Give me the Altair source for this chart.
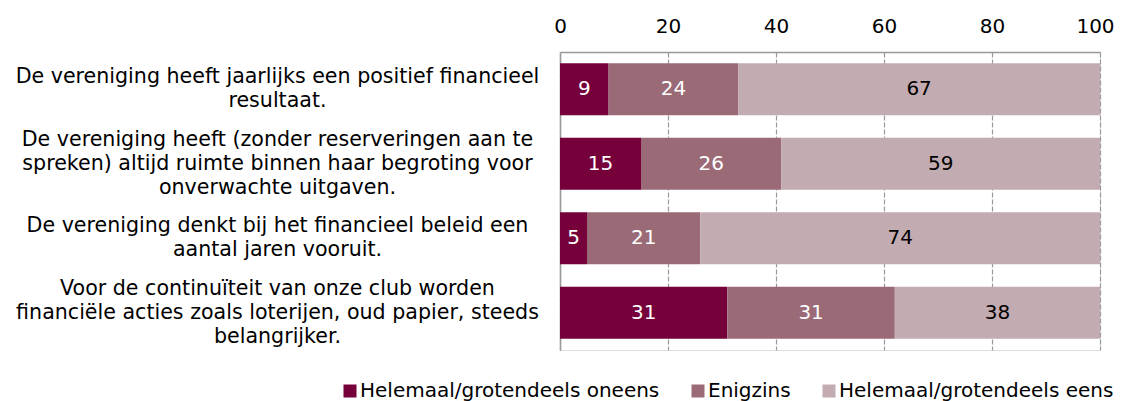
import altair as alt
import pandas as pd

categories = [
    "De vereniging heeft jaarlijks een positief financieel\nresultaat.",
    "De vereniging heeft (zonder reserveringen aan te\nspreken) altijd ruimte binnen haar begroting voor\nonverwachte uitgaven.",
    "De vereniging denkt bij het financieel beleid een\naantal jaren vooruit.",
    "Voor de continuïteit van onze club worden\nfinanciële acties zoals loterijen, oud papier, steeds\nbelangrijker.",
]
series = ["Helemaal/grotendeels oneens", "Enigzins", "Helemaal/grotendeels eens"]
oneens = [9, 15, 5, 31]
enigzins = [24, 26, 21, 31]
eens = [67, 59, 74, 38]
colors = ["#75003A", "#9A6B77", "#C2ABB1"]
text_colors = ["white", "white", "black"]

rows = []
for ci, cat in enumerate(categories):
    for si, (s, vals) in enumerate(zip(series, [oneens, enigzins, eens])):
        rows.append({"cat": cat, "series": s, "order": si, "value": vals[ci],
                     "tc": text_colors[si]})
df = pd.DataFrame(rows)

FONT = "DejaVu Sans"
LH = 24

base = alt.Chart(df).transform_stack(
    stack="value", as_=["x0", "x1"], groupby=["cat"], sort=[alt.SortField("order")]
).transform_calculate(mid="(datum.x0 + datum.x1) / 2")

yenc = alt.Y(
    "cat:N", sort=categories, title=None,
    scale=alt.Scale(paddingInner=0.3, paddingOuter=0.15),
    axis=alt.Axis(
        labelExpr="split(datum.label, '\\n')", labelAlign="center",
        labelBaseline="middle",
        labelOffset={"condition": {"test": "length(split(datum.label, '\\n')) == 3",
                                   "value": -LH},
                     "value": -LH / 2},
        labelPadding=283, ticks=False, labelFont=FONT, labelFontSize=20.6,
        labelLineHeight=LH, labelColor="black", labelLimit=0,
        domain=True, domainColor="#999999", domainWidth=1.5, grid=False,
    ),
)

bars = base.mark_bar().encode(
    x=alt.X("x0:Q", scale=alt.Scale(domain=[0, 100], nice=False), title=None,
            axis=alt.Axis(orient="top", values=[0, 20, 40, 60, 80, 100],
                          labelFont=FONT, labelFontSize=20, labelColor="black",
                          labelFlush=False,
                          labelOffset={"condition": {"test": "datum.value == 100",
                                                     "value": -5},
                                       "value": 0},
                          ticks=False, labelPadding=16, domain=True,
                          domainColor="#999999", domainWidth=1.5,
                          grid=True, gridColor="#999999", gridDash=[5, 2],
                          gridWidth=1.2)),
    x2="x1:Q",
    y=yenc,
    color=alt.Color("series:N", sort=series,
                    scale=alt.Scale(domain=series, range=colors),
                    legend=alt.Legend(title=None, orient="none", direction="horizontal",
                                      legendX=-220, legendY=329,
                                      symbolType="square", symbolSize=169,
                                      symbolStrokeWidth=0, labelFont=FONT,
                                      labelFontSize=20, labelColor="black",
                                      labelOffset=0, columnPadding=28, labelLimit=0)),
    order=alt.Order("order:Q"),
)

labels = base.mark_text(font=FONT, fontSize=20, baseline="middle", align="center").encode(
    x="mid:Q",
    y=alt.Y("cat:N", sort=categories),
    text="value:Q",
    color=alt.Color("tc:N", scale=None),
)

chart = alt.layer(bars, labels).properties(
    width=540, height=298,
    autosize=alt.AutoSizeParams(type="none"),
    padding={"left": 552, "top": 44, "right": 16, "bottom": 52},
).configure_view(stroke=None).configure(background="white")

chart.save("out.html", embed_options={"renderer": "svg", "actions": False})
